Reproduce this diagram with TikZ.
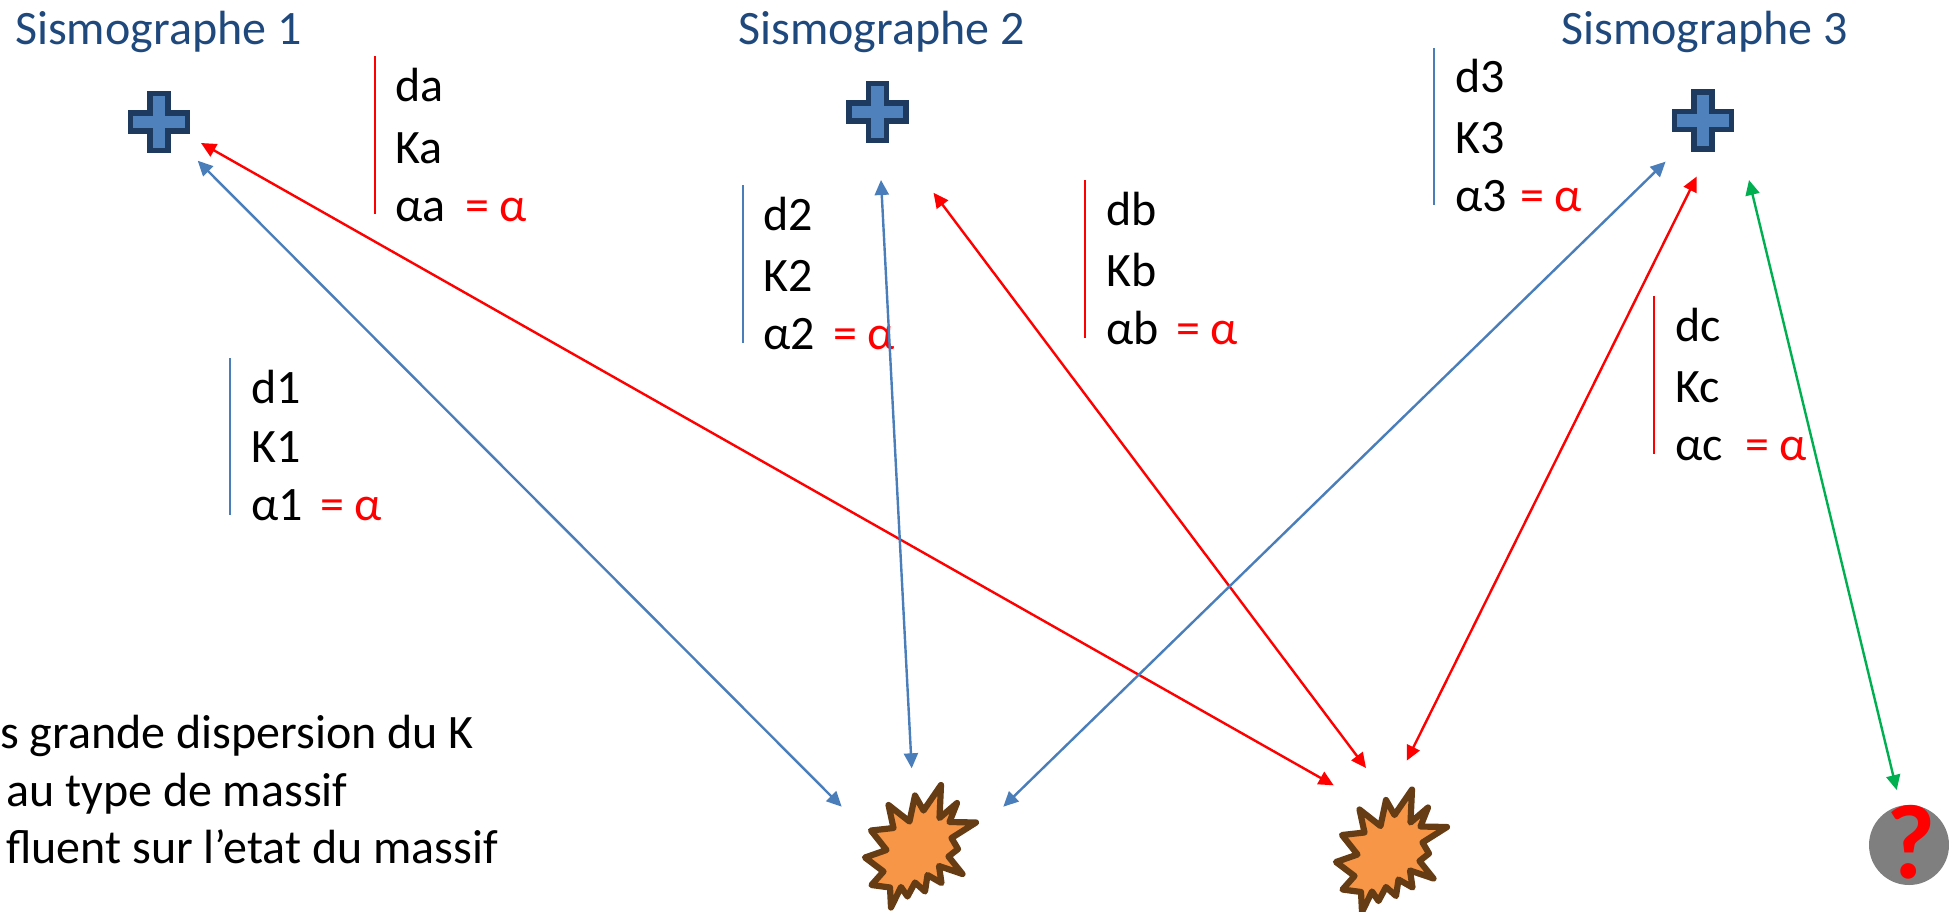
\documentclass[tikz,border=0pt]{standalone}
\usepackage{fontspec}
\setmainfont{Carlito}
\usetikzlibrary{arrows.meta}
\definecolor{lblue}{HTML}{4A7EBB}
\definecolor{crossfill}{HTML}{4F81BD}
\definecolor{crossdraw}{HTML}{1F3A5F}
\definecolor{titleblue}{HTML}{1F497D}
\definecolor{starfill}{HTML}{F79646}
\definecolor{stardraw}{HTML}{663C14}
\definecolor{lgreen}{HTML}{00B050}
\definecolor{qgray}{HTML}{7F7F7F}
\tikzset{
  txt/.style={anchor=base west,inner sep=0pt,font=\fontsize{48}{48}\selectfont},
  redtxt/.style={txt,text=red},
  titletxt/.style={txt,text=titleblue},
  bar/.style={line width=1.8pt},
  link/.style={line width=2.4pt,{Triangle[length=15pt,width=14pt]}-{Triangle[length=15pt,width=14pt]}},
  pics/sismo/.style={code={
    \draw[crossdraw,fill=crossfill,line width=5.6pt,miter limit=10]
      (-9,-28.5)--(9,-28.5)--(9,-9)--(28.5,-9)--(28.5,9)--(9,9)--(9,28.5)--(-9,28.5)--(-9,9)--(-28.5,9)--(-28.5,-9)--(-9,-9)--cycle;
  }},
  pics/blast/.style={code={
    \draw[stardraw,fill=starfill,line width=6.2pt,line join=round]
      (941,785)--(939.5,818)--(957,803)--(949.5,822)--(976,822.5)--(951.5,838)--(958,849)--(948.5,856.5)--(962.5,874)--(939,866)--(941.5,883)--(927.5,875)--(925,891.5)--(915,882.5)--(907.5,896.5)--(901,887)--(891,907.5)--(890,887.5)--(871.5,885)--(883.5,871.5)--(865,857.5)--(886.5,850)--(871,830.5)--(893.5,828)--(888.5,805)--(909.5,821.5)--(915,795.5)--(923.5,810.5)--cycle;
  }}
}
\begin{document}
\begin{tikzpicture}[x=1pt,y=-1pt]
\path[use as bounding box] (0,0) rectangle (1949,911);

% titles
\node[titletxt] (t1) at (15,44) {Sismographe 1};
\node[titletxt] (t2) at (738,44) {Sismographe 2};
\node[titletxt] (t3) at (1561,44) {Sismographe 3};

% crosses
\pic at (159,122) {sismo};
\pic at (877.5,112) {sismo};
\pic at (1703,120.5) {sismo};

% blasts
\pic at (0,0) {blast};
\pic at (471,4.5) {blast};

% unknown source
\node[circle,fill=qgray,minimum size=80pt,inner sep=0pt] (q) at (1909,845) {};
\node[anchor=base,inner sep=0pt,text=red,font=\fontsize{106}{106}\selectfont\bfseries] (qm) at (1911,878) {?};

% connector ends
\coordinate (c1a) at (197.7,160.7);
\coordinate (c1b) at (201,143);
\coordinate (c2a) at (881,180);
\coordinate (c2b) at (933.5,192.7);
\coordinate (c3a) at (1665.6,161.6);
\coordinate (c3b) at (1696.7,176.5);
\coordinate (c3c) at (1749,180);
\coordinate (e1a) at (841.7,806.7);
\coordinate (e1b) at (911.7,768.3);
\coordinate (e1c) at (1003.3,806.7);
\coordinate (e2a) at (1333.7,785.3);
\coordinate (e2b) at (1366,768);
\coordinate (e2c) at (1406.7,760.7);
\coordinate (qa) at (1896.7,790);

% bars and texts
\draw[bar,lblue] (230,358) -- (230,515);
\node[txt] (d1) at (251,403) {d1};
\node[txt] (k1) at (251,462) {K1};
\node[txt] (a1) at (251,520) {α1};
\node[redtxt] (e1) at (320,520) {= α};

\draw[bar,red] (375,56) -- (375,214);
\node[txt] (da) at (395,101) {da};
\node[txt] (ka) at (395,163) {Ka};
\node[txt] (aa) at (395,221) {αa};
\node[redtxt] (ea) at (465,221) {= α};

\draw[bar,lblue] (743,185) -- (743,343);
\node[txt] (d2) at (763,230) {d2};
\node[txt] (k2) at (763,291) {K2};
\node[txt] (a2) at (763,349) {α2};
\node[redtxt] (e2) at (833,349) {= α};

\draw[bar,red] (1085,180) -- (1085,338);
\node[txt] (db) at (1106,225) {db};
\node[txt] (kb) at (1106,286) {Kb};
\node[txt] (ab) at (1106,344) {αb};
\node[redtxt] (eb) at (1176,344) {= α};

\draw[bar,lblue] (1434,48) -- (1434,205);
\node[txt] (d3) at (1455,92) {d3};
\node[txt] (k3) at (1455,153) {K3};
\node[txt] (a3) at (1455,211) {α3};
\node[redtxt] (e3) at (1520,211) {= α};

\draw[bar,red] (1654,296) -- (1654,454);
\node[txt] (dc) at (1675,341) {dc};
\node[txt] (kc) at (1675,402) {Kc};
\node[txt] (ac) at (1675,460) {αc};
\node[redtxt] (ec) at (1745,460) {= α};

% bottom text
\node[txt] (b1) at (0,748) {s grande dispersion du K};
\node[txt] (b2) at (6,806) {au type de massif};
\node[txt] (b3) at (6,863) {fluent sur l’etat du massif};

% connectors
\draw[link,lblue] (c1a) -- (e1a);
\draw[link,red] (c1b) -- (e2a);
\draw[link,lblue] (c2a) -- (e1b);
\draw[link,red] (c2b) -- (e2b);
\draw[link,lblue] (c3a) -- (e1c);
\draw[link,red] (c3b) -- (e2c);
\draw[link,lgreen] (c3c) -- (qa);
\end{tikzpicture}
\end{document}
